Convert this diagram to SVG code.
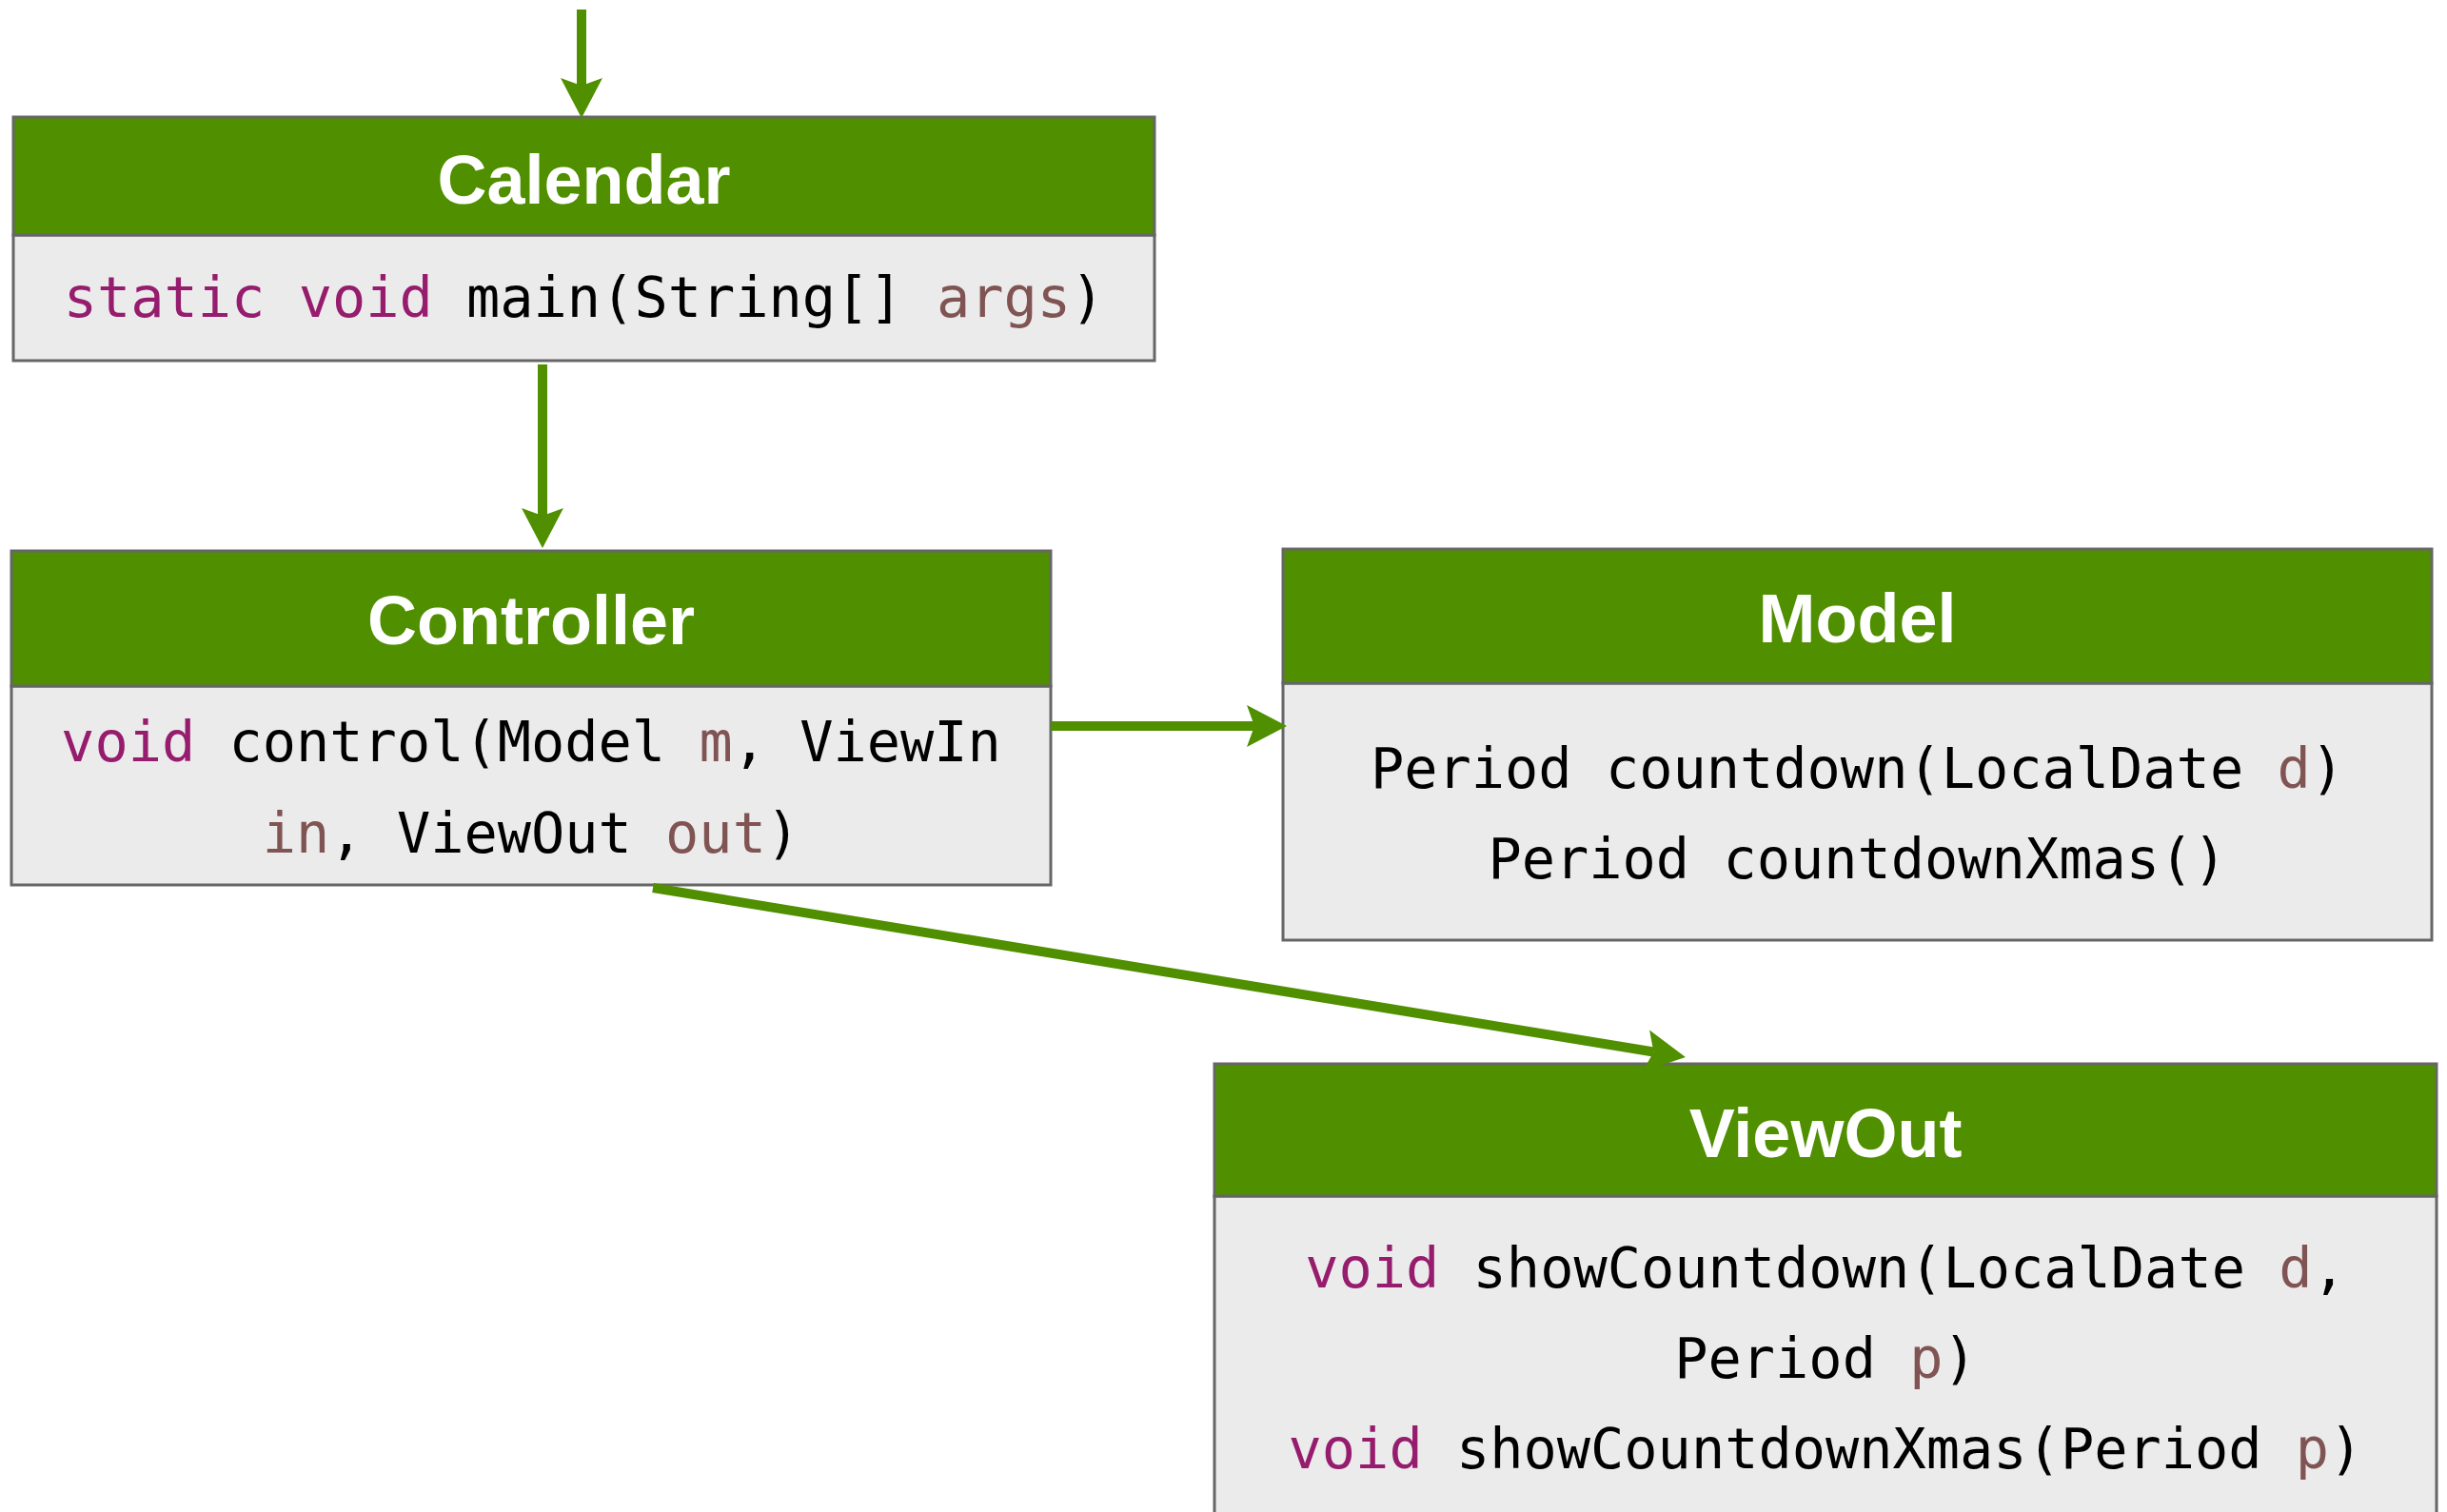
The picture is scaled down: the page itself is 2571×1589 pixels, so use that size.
<svg xmlns="http://www.w3.org/2000/svg" width="2571" height="1589" viewBox="0 0 2571 1589">
  <style>
    .hdr { fill: #4F8F00; stroke: #666666; stroke-width: 3; }
    .body { fill: #EBEBEB; stroke: #666666; stroke-width: 3; }
    .title { font-family: "Liberation Sans", Arial, sans-serif; font-weight: bold; font-size: 72px; fill: #FFFFFF; text-anchor: middle; }
    .code { font-family: "DejaVu Sans Mono", "Liberation Mono", monospace; font-size: 58.6px; fill: #000000; text-anchor: middle; }
    .kw { fill: #961C6E; }
    .prm { fill: #815454; }
    .edge { fill: none; stroke: #4F8F00; stroke-width: 10; }
  </style>
  <defs>
    <marker id="arrow" markerUnits="userSpaceOnUse" orient="auto" refX="0" refY="0" viewBox="-10 -24 46 48" markerWidth="46" markerHeight="48" overflow="visible">
      <path d="M34,0 L-8,-22 L0,0 L-8,22 Z" fill="#4F8F00"/>
    </marker>
  </defs>
  <rect width="2571" height="1589" fill="#FFFFFF"/>

  <g id="calendar">
    <rect class="body" x="14" y="247" width="1199" height="132"/>
    <rect class="hdr" x="14" y="123" width="1199" height="124"/>
    <text class="title" x="613.5" y="214">Calendar</text>
    <text class="code" x="613.5" y="333"><tspan class="kw">static void</tspan> main(String[] <tspan class="prm">args</tspan>)</text>
  </g>

  <g id="controller">
    <rect class="body" x="12" y="721" width="1092" height="209"/>
    <rect class="hdr" x="12" y="579" width="1092" height="142"/>
    <text class="title" x="558" y="677">Controller</text>
    <text class="code" x="558" y="800"><tspan class="kw">void</tspan> control(Model <tspan class="prm">m</tspan>, ViewIn</text>
    <text class="code" x="558" y="896"><tspan class="prm">in</tspan>, ViewOut <tspan class="prm">out</tspan>)</text>
  </g>

  <g id="model">
    <rect class="body" x="1348" y="718" width="1207" height="270"/>
    <rect class="hdr" x="1348" y="577" width="1207" height="141"/>
    <text class="title" x="1951.5" y="675">Model</text>
    <text class="code" x="1951.5" y="828">Period countdown(LocalDate <tspan class="prm">d</tspan>)</text>
    <text class="code" x="1951.5" y="923">Period countdownXmas()</text>
  </g>

  <g id="viewout">
    <rect class="body" x="1276" y="1257" width="1284" height="345"/>
    <rect class="hdr" x="1276" y="1118" width="1284" height="139"/>
    <text class="title" x="1918" y="1216">ViewOut</text>
    <text class="code" x="1918" y="1353"><tspan class="kw">void</tspan> showCountdown(LocalDate <tspan class="prm">d</tspan>,</text>
    <text class="code" x="1918" y="1448">Period <tspan class="prm">p</tspan>)</text>
    <text class="code" x="1918" y="1543"><tspan class="kw">void</tspan> showCountdownXmas(Period <tspan class="prm">p</tspan>)</text>
  </g>

  <g id="connectors">
    <line class="edge" x1="611" y1="10" x2="611" y2="90" marker-end="url(#arrow)"/>
    <line class="edge" x1="570" y1="383" x2="570" y2="542" marker-end="url(#arrow)"/>
    <line class="edge" x1="1104" y1="763" x2="1318" y2="763" marker-end="url(#arrow)"/>
    <line class="edge" x1="686" y1="933" x2="1737.4" y2="1105.5" marker-end="url(#arrow)"/>
  </g>
</svg>
